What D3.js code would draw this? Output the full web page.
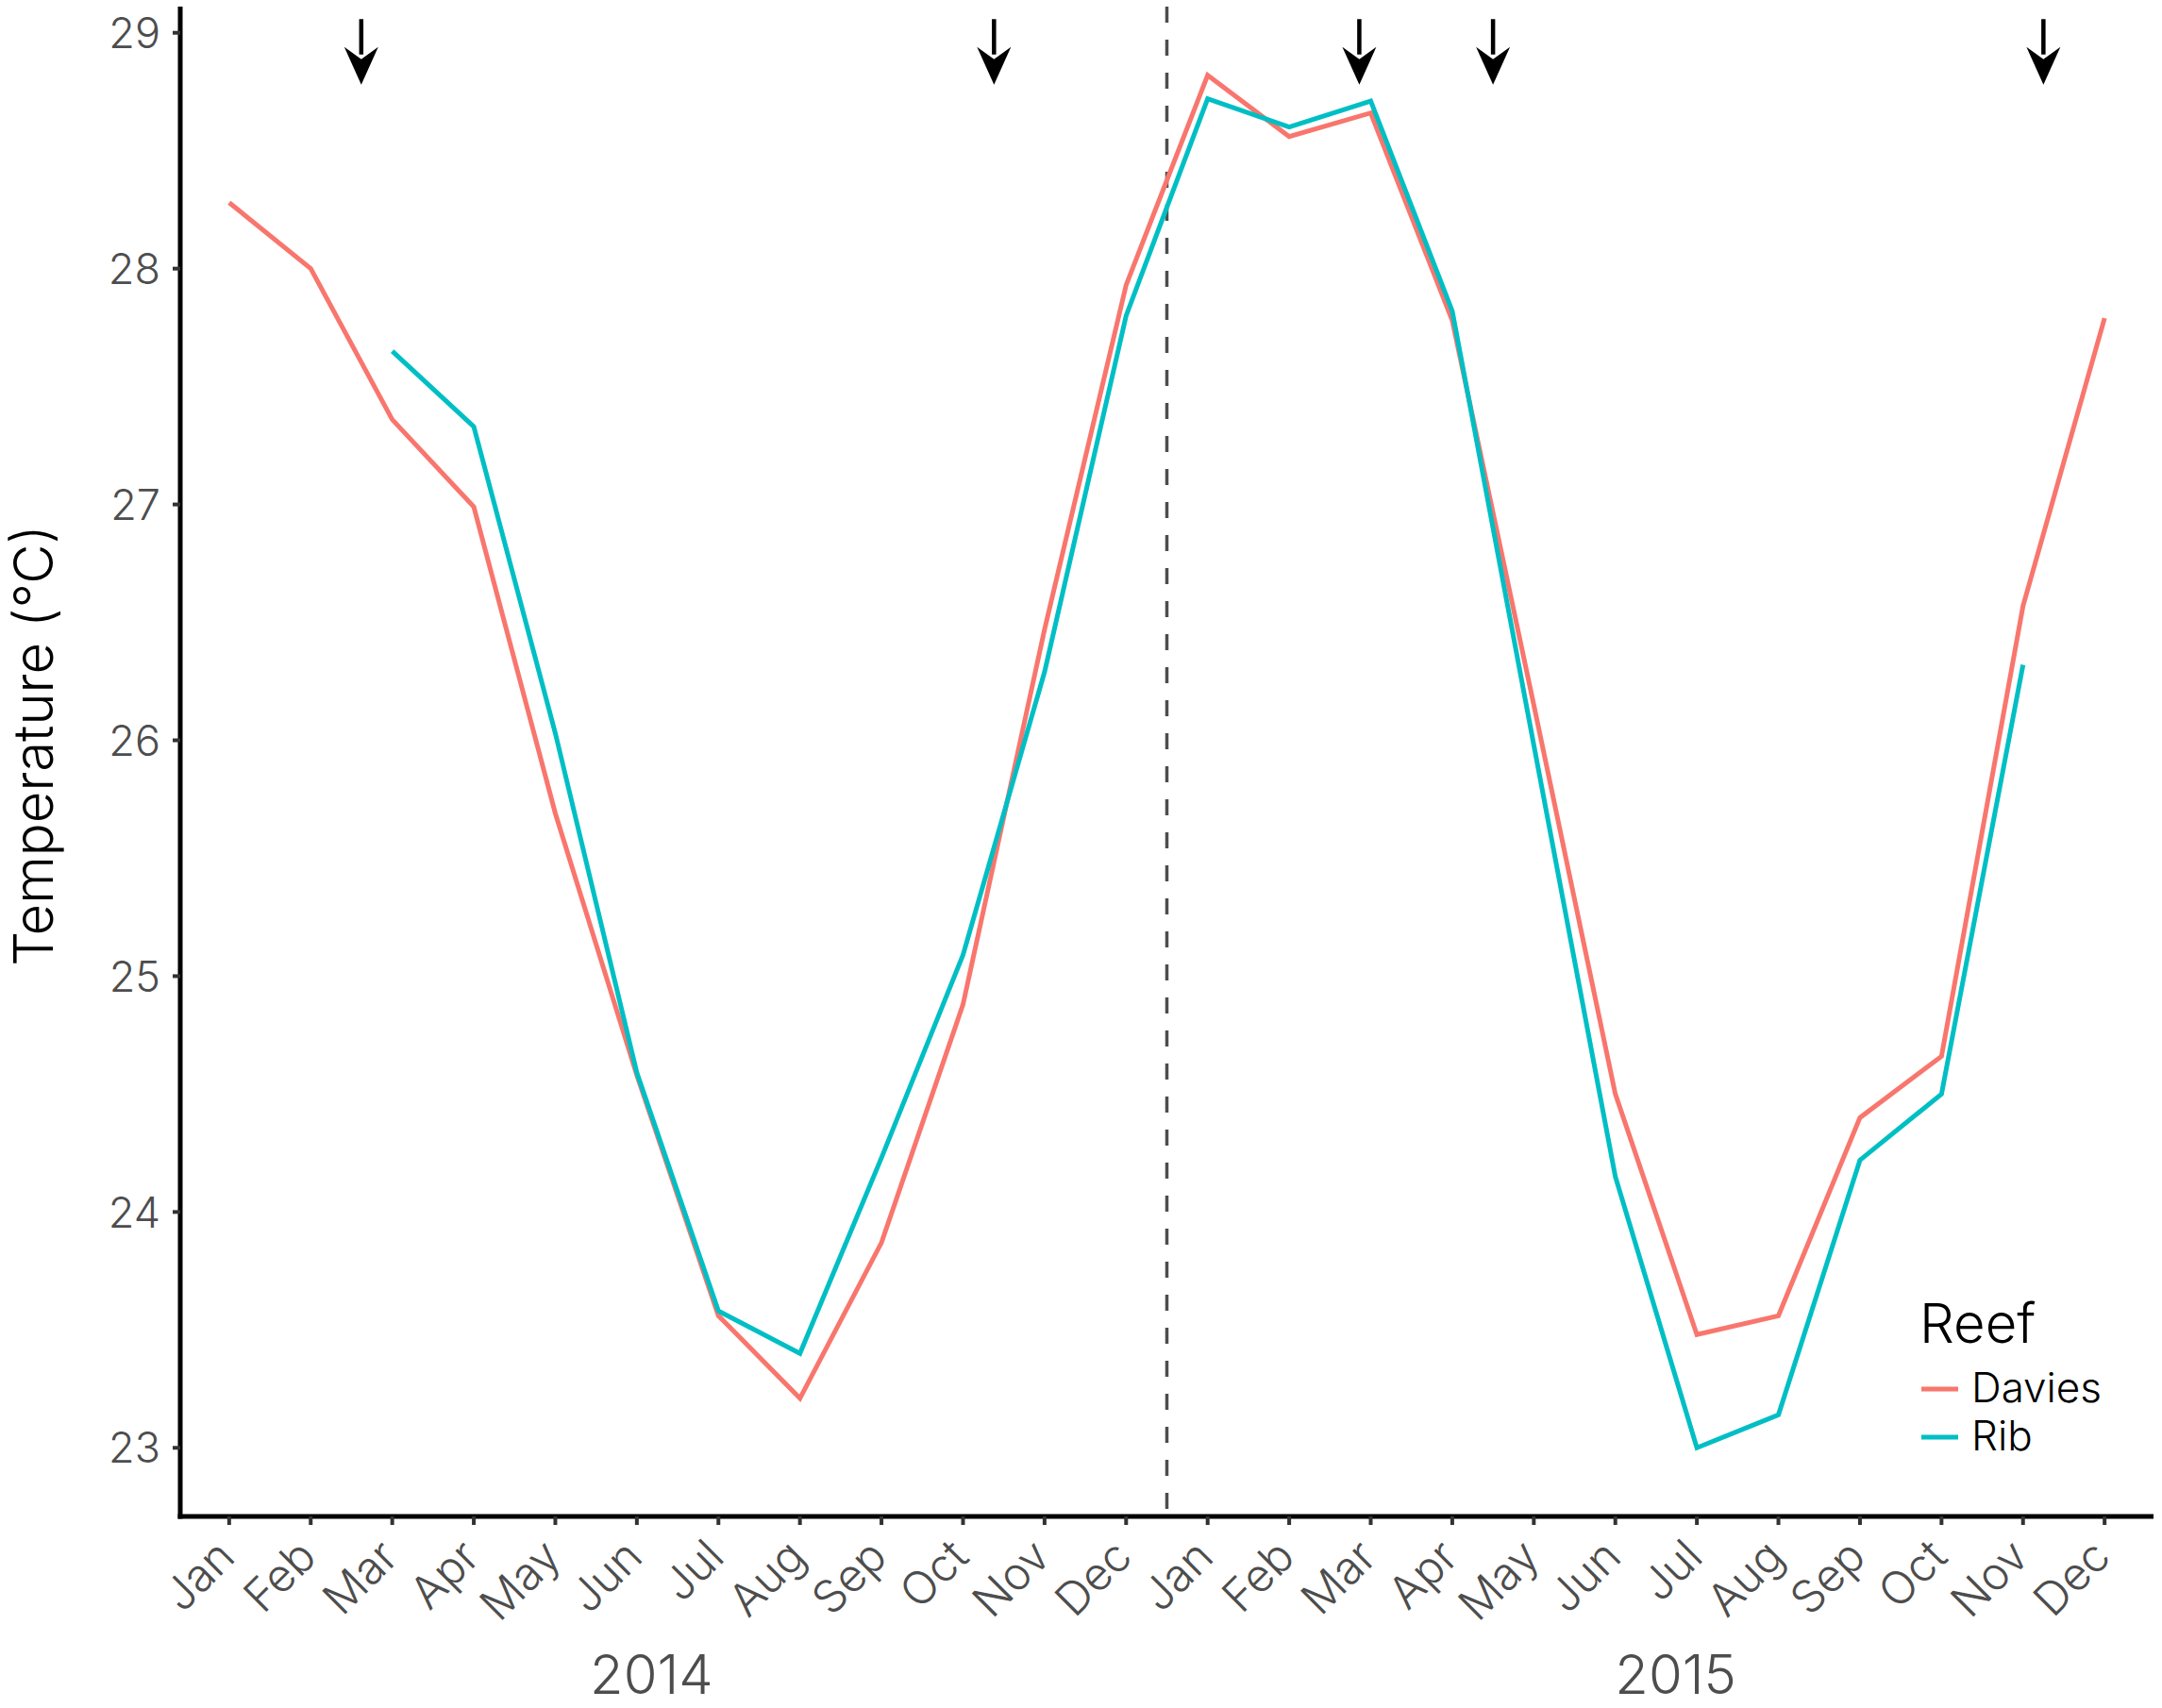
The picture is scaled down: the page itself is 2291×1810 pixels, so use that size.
<!DOCTYPE html>
<html>
<head>
<meta charset="utf-8">
<script src="https://d3js.org/d3.v7.min.js"></script>
<style>
  body { margin: 0; background: #fff; }
  text { font-family: "Helvetica Neue", Inter, Roboto, "Liberation Sans", sans-serif; }
</style>
</head>
<body>
<svg id="chart"></svg>
<script>
// month labels along the x axis (2014 then 2015)
const months = ["Jan","Feb","Mar","Apr","May","Jun","Jul","Aug","Sep","Oct","Nov","Dec",
                "Jan","Feb","Mar","Apr","May","Jun","Jul","Aug","Sep","Oct","Nov","Dec"];

// monthly mean temperature (ºC)
const davies = [28.28, 28.00, 27.36, 26.99, 25.69, 24.58, 23.56, 23.21, 23.87, 24.88, 26.47, 27.93,
                28.82, 28.56, 28.66, 27.78, 26.15, 24.50, 23.48, 23.56, 24.40, 24.66, 26.57, 27.79];
const rib    = [null, null, 27.65, 27.33, 26.03, 24.59, 23.58, 23.40, 24.23, 25.09, 26.29, 27.80,
                28.72, 28.60, 28.71, 27.82, 25.98, 24.15, 23.00, 23.14, 24.22, 24.50, 26.32, null];

const reefs = ["Davies", "Rib"];
const yTicks = [23, 24, 25, 26, 27, 28, 29];

// sampling arrows (position in month index) and their vertical span
const arrowsAt = [1.62, 9.38, 13.86, 15.50, 22.25];
const arrowTop = 29.058, arrowTip = 28.78, arrowBase = 28.94;

// year break and year labels
const yearBreak = 11.5;
const years = ["2014", "2015"];
const yearPos = [5.18, 17.74];

function drawChart(svgSelector, width, height) {
  const svg = d3.select(svgSelector)
    .attr("width", width)
    .attr("height", height)
    .attr("viewBox", `0 0 ${width} ${height}`);

  svg.selectAll("*").remove();

  const panel = { left: 191, right: 2282, top: 7, bottom: 1607 };

  const x = d3.scaleLinear()
    .domain([-0.6, months.length - 1 + 0.6])
    .range([panel.left, panel.right]);

  const all = davies.concat(rib).filter(v => v != null);
  const lo = d3.min(all), hi = d3.max(all);
  const pad = (hi - lo) * 0.05;
  const y = d3.scaleLinear()
    .domain([lo - pad, hi + pad])
    .range([panel.bottom, panel.top]);

  const color = d3.scaleOrdinal()
    .domain(reefs)
    .range(["#F8766D", "#00BFC4"]);

  // dashed line between the years
  svg.append("line")
    .attr("x1", x(yearBreak)).attr("x2", x(yearBreak))
    .attr("y1", panel.top).attr("y2", panel.bottom)
    .attr("stroke", "#4d4d4d")
    .attr("stroke-width", 3.5)
    .attr("stroke-dasharray", "17 18");

  // lines
  const line = d3.line()
    .defined(d => d != null)
    .x((d, i) => x(i))
    .y(d => y(d));

  [davies, rib].forEach((series, k) => {
    svg.append("path")
      .datum(series)
      .attr("d", line)
      .attr("fill", "none")
      .attr("stroke", color(reefs[k]))
      .attr("stroke-width", 5);
  });

  // arrows
  arrowsAt.forEach(a => {
    const ax = x(a);
    svg.append("line")
      .attr("x1", ax).attr("x2", ax)
      .attr("y1", y(arrowTop)).attr("y2", y(arrowBase) + 8)
      .attr("stroke", "#000")
      .attr("stroke-width", 4.5);
    svg.append("path")
      .attr("d", `M${ax - 18},${y(arrowBase)} L${ax},${y(arrowBase) + 13} L${ax + 18},${y(arrowBase)} L${ax},${y(arrowTip)} Z`)
      .attr("fill", "#000");
  });

  // y axis
  const yAxis = svg.append("g");
  yAxis.append("line")
    .attr("x1", panel.left).attr("x2", panel.left)
    .attr("y1", panel.top).attr("y2", panel.bottom + 2.5)
    .attr("stroke", "#000").attr("stroke-width", 5);
  yTicks.forEach(t => {
    yAxis.append("line")
      .attr("x1", panel.left - 8).attr("x2", panel.left)
      .attr("y1", y(t)).attr("y2", y(t))
      .attr("stroke", "#333").attr("stroke-width", 4);
    yAxis.append("text")
      .attr("x", panel.left - 21)
      .attr("y", y(t))
      .attr("dy", "0.36em")
      .attr("text-anchor", "end")
      .attr("font-size", 45)
      .attr("font-weight", 300)
      .attr("fill", "#4d4d4d")
      .text(t);
  });

  // x axis
  const xAxis = svg.append("g");
  xAxis.append("line")
    .attr("x1", panel.left - 2.5).attr("x2", panel.right)
    .attr("y1", panel.bottom).attr("y2", panel.bottom)
    .attr("stroke", "#000").attr("stroke-width", 5);
  months.forEach((m, i) => {
    xAxis.append("line")
      .attr("x1", x(i)).attr("x2", x(i))
      .attr("y1", panel.bottom).attr("y2", panel.bottom + 9)
      .attr("stroke", "#333").attr("stroke-width", 4);
    const tx = x(i) - 16, ty = panel.bottom + 21;
    xAxis.append("text")
      .attr("transform", `translate(${tx},${ty}) rotate(-45)`)
      .attr("dy", "0.72em")
      .attr("text-anchor", "end")
      .attr("font-size", 48)
      .attr("font-weight", 300)
      .attr("fill", "#4d4d4d")
      .text(m);
  });

  // year labels
  years.forEach((yr, i) => {
    svg.append("text")
      .attr("x", x(yearPos[i]))
      .attr("y", 1795)
      .attr("text-anchor", "middle")
      .attr("font-size", 58)
      .attr("font-weight", 300)
      .attr("fill", "#4d4d4d")
      .text(yr);
  });

  // y title
  svg.append("text")
    .attr("transform", `translate(56,790) rotate(-90)`)
    .attr("text-anchor", "middle")
    .attr("font-size", 58)
    .attr("font-weight", 300)
    .attr("fill", "#000")
    .text("Temperature (°C)");

  // legend
  const legend = svg.append("g").attr("transform", "translate(2034,1423)");
  legend.append("text")
    .attr("x", 0).attr("y", 0)
    .attr("font-size", 58)
    .attr("font-weight", 300)
    .attr("fill", "#000")
    .text("Reef");
  reefs.forEach((r, i) => {
    const ky = 49 + i * 51;
    legend.append("line")
      .attr("x1", 2).attr("x2", 41)
      .attr("y1", ky).attr("y2", ky)
      .attr("stroke", color(r))
      .attr("stroke-width", 5);
    legend.append("text")
      .attr("x", 55).attr("y", ky + 14)
      .attr("font-size", 44)
      .attr("font-weight", 300)
      .attr("fill", "#000")
      .text(r);
  });
}

drawChart("#chart", 2291, 1810);
</script>
</body>
</html>
